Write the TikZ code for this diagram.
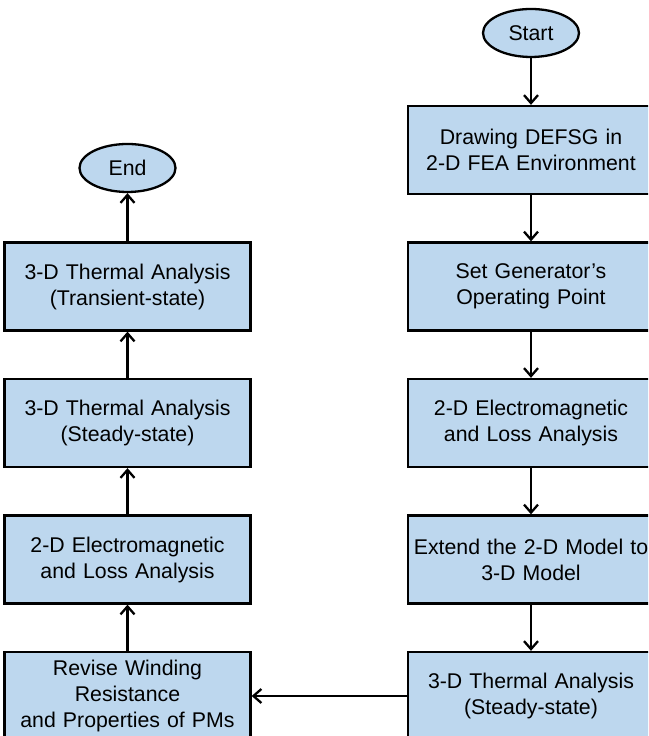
\documentclass[tikz,border=0pt]{standalone}
\usepackage{fontspec}
\setmainfont{Liberation Sans}
\usetikzlibrary{positioning,arrows.meta,shapes.geometric}
\definecolor{boxblue}{RGB}{189,215,238}

\begin{document}
\begin{tikzpicture}[x=1pt, y=1pt, node distance={136.5pt}, line width=2.3pt,
  box/.style = {draw, fill=boxblue, minimum width=246pt, minimum height=88pt, text width=240pt, inner sep=3pt, align=center, font=\fontsize{21.3}{26}\selectfont},
  term/.style = {draw, fill=boxblue, ellipse, minimum width=96pt, minimum height=48pt, inner sep=0pt, font=\fontsize{21.3}{26}\selectfont},
  ->/.style = {-{Straight Barb[length=8pt,width=14pt]}}]
\useasboundingbox (0,0) rectangle (648,736);
\clip (0,0) rectangle (648,736);
\node[term] (start) at (531,703) {Start};
\node[box] (r1) [below of=start, node distance=117pt] {Drawing DEFSG in\\2-D FEA Environment};
\node[box] (r2) [below of=r1] {Set Generator's\\Operating Point};
\node[box] (r3) [below of=r2] {2-D Electromagnetic\\and Loss Analysis};
\node[box] (r4) [below of=r3] {Extend the 2-D Model to\\3-D Model};
\node[box] (r5) [below of=r4] {3-D Thermal Analysis\\(Steady-state)};
\node[box] (l1) [left of=r2, node distance=403.5pt] {3-D Thermal Analysis\\(Transient-state)};
\node[box] (l2) [below of=l1] {3-D Thermal Analysis\\(Steady-state)};
\node[box] (l3) [below of=l2] {2-D Electromagnetic\\and Loss Analysis};
\node[box] (l4) [below of=l3] {Revise Winding\\Resistance\\and Properties of PMs};
\node[term] (end) [above of=l1, node distance=118.5pt] {End};
\draw[->] (start) -- (r1);
\draw[->] (r1) -- (r2);
\draw[->] (r2) -- (r3);
\draw[->] (r3) -- (r4);
\draw[->] (r4) -- (r5);
\draw[->] (r5) -- (l4);
\draw[->] (l4) -- (l3);
\draw[->] (l3) -- (l2);
\draw[->] (l2) -- (l1);
\draw[->] (l1) -- (end);
\end{tikzpicture}
\end{document}
